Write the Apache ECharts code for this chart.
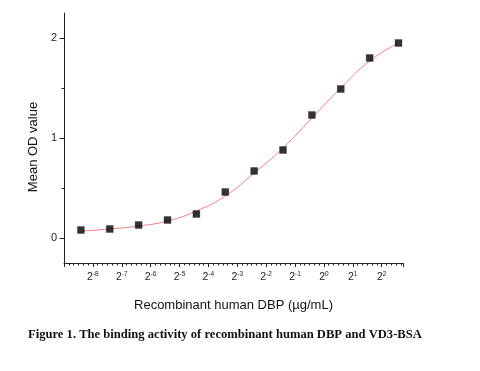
<!DOCTYPE html>
<html>
<head>
<meta charset="utf-8">
<script src="https://cdn.jsdelivr.net/npm/echarts@6/dist/echarts.min.js"></script>
<style>
html,body{margin:0;padding:0;background:#fff;}
#chart{width:480px;height:371px;}
</style>
</head>
<body>
<div id="chart"></div>
<script>
// Concentrations (µg/mL), two-fold dilution series
const doses = [0.0029297, 0.0058594, 0.0117188, 0.0234375, 0.046875, 0.09375, 0.1875, 0.375, 0.75, 1.5, 3, 6];
// Measured mean OD values (squares)
const meanOD = [0.08, 0.09, 0.13, 0.18, 0.24, 0.46, 0.67, 0.88, 1.23, 1.49, 1.80, 1.95];
// Fitted curve at the same concentrations
const fitOD = [0.07, 0.09, 0.12, 0.17, 0.27, 0.42, 0.65, 0.90, 1.20, 1.50, 1.77, 1.95];
// Axis labels
const yTicks = [0, 1, 2];
const yMinorTicks = [0.5, 1.5];
const xTitle = 'Recombinant human DBP (µg/mL)';
const yTitle = 'Mean OD value';
const caption = 'Figure 1. The binding activity of recombinant human DBP and VD3-BSA';

const chart = echarts.init(document.getElementById('chart'), null, {renderer: 'canvas'});
const axisColor = '#222';
const font = 'Liberation Sans, Arial, sans-serif';

chart.setOption({
  animation: false,
  backgroundColor: '#fff',
  grid: {left: 64, right: 77, top: 13, bottom: 108, containLabel: false},
  xAxis: {
    type: 'value',
    min: -9, max: 2.74, interval: 1,
    name: xTitle, nameLocation: 'middle', nameGap: 36,
    nameTextStyle: {fontFamily: font, fontSize: 13, color: '#111'},
    axisLine: {show: true, onZero: false, lineStyle: {color: axisColor, width: 1}},
    axisTick: {show: true, length: 4, inside: false, lineStyle: {color: axisColor}},
    minorTick: {show: true, splitNumber: 6, length: 2.5, lineStyle: {color: axisColor}},
    splitLine: {show: false},
    axisLabel: {
      margin: 8, showMinLabel: false, showMaxLabel: false,
      formatter: v => (Number.isInteger(v) && v >= -8 && v <= 2) ? '{b|2}{s|' + v + '}' : '',
      rich: {
        b: {fontFamily: font, fontSize: 10.5, color: '#222'},
        s: {fontFamily: font, fontSize: 6.5, color: '#222', padding: [0, 0, 6, 0]}
      }
    }
  },
  yAxis: [{
    type: 'value',
    min: -0.25, max: 2.25,
    name: yTitle, nameLocation: 'middle', nameGap: 21,
    nameTextStyle: {fontFamily: font, fontSize: 13, color: '#111', padding: [0, 18, 0, 0]},
    axisLine: {show: true, onZero: false, lineStyle: {color: axisColor, width: 1}},
    axisTick: {show: true, length: 4.5, customValues: yTicks, lineStyle: {color: axisColor}},
    axisLabel: {customValues: yTicks, margin: 7, fontFamily: font, fontSize: 11, color: '#222'},
    splitLine: {show: false}
  }, {
    type: 'value',
    min: -0.25, max: 2.25, position: 'left',
    axisLine: {show: false, onZero: false},
    axisTick: {show: true, length: 2.5, customValues: yMinorTicks, lineStyle: {color: axisColor}},
    axisLabel: {show: false},
    splitLine: {show: false}
  }],
  series: [{
    type: 'line',
    name: 'fit',
    data: doses.map((d, i) => [Math.log2(d), fitOD[i]]),
    smooth: 0.5,
    symbol: 'none',
    lineStyle: {color: '#f08080', width: 1},
    z: 2
  }, {
    type: 'scatter',
    name: 'mean OD',
    data: doses.map((d, i) => [Math.log2(d), meanOD[i]]),
    symbol: 'rect',
    symbolSize: 7,
    itemStyle: {color: '#000', borderColor: '#000', borderWidth: 0.3},
    z: 3
  }],
  graphic: [{
    type: 'text',
    left: 28, top: 328,
    style: {
      text: caption,
      font: 'bold 12.6px "Liberation Serif", "Times New Roman", serif',
      fill: '#111'
    }
  }]
});
</script>
</body>
</html>
